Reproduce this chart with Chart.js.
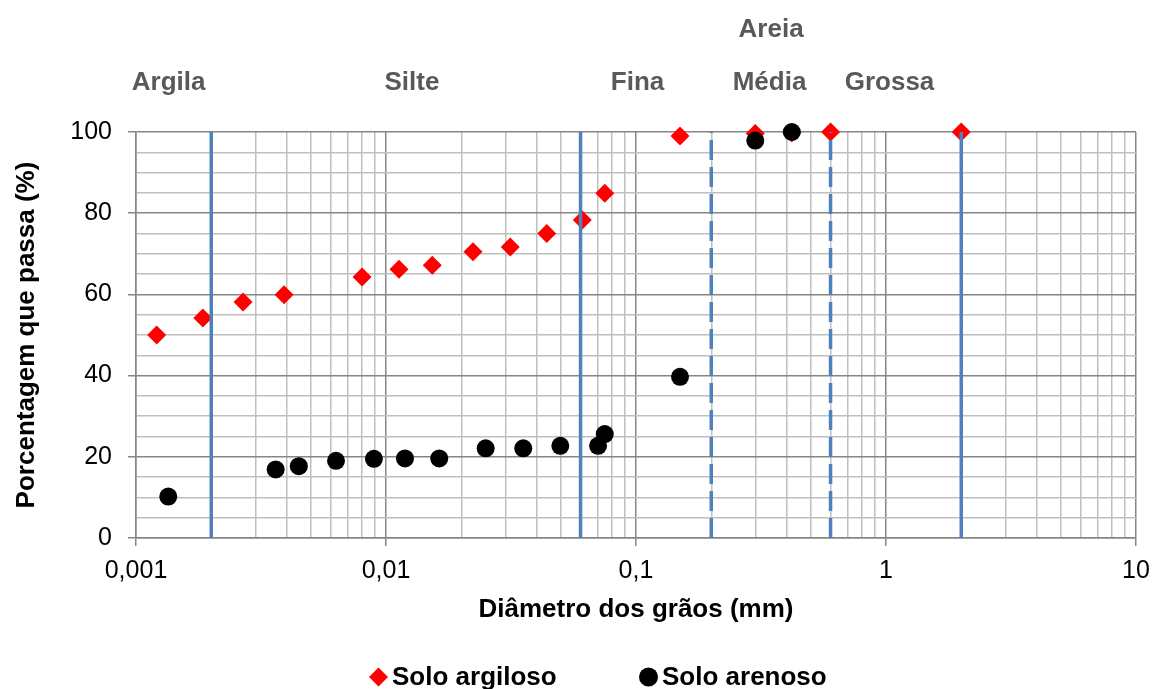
<!DOCTYPE html>
<html>
<head>
<meta charset="utf-8">
<script src="https://cdn.jsdelivr.net/npm/chart.js@4.4.0/dist/chart.umd.min.js"></script>
<style>
  html, body { margin: 0; padding: 0; background: #fff; }
  canvas { display: block; }
</style>
</head>
<body>
<canvas id="grafico" width="1153" height="689"></canvas>
<script>
// dados - solo argiloso
const diamArgiloso = [0.00121, 0.00185, 0.00268, 0.00391, 0.00802, 0.01127, 0.01531, 0.02228, 0.03141, 0.04395, 0.0610, 0.075, 0.15, 0.3, 0.42, 0.6, 2.0];
const passaArgiloso = [50.0, 54.2, 58.1, 59.9, 64.3, 66.2, 67.2, 70.5, 71.7, 75.0, 78.3, 84.9, 99.0, 99.6, 99.8, 100, 100];

// dados - solo arenoso
const diamArenoso = [0.001346, 0.00362, 0.00448, 0.00631, 0.00895, 0.01191, 0.01633, 0.02504, 0.0354, 0.0498, 0.0705, 0.075, 0.15, 0.3, 0.42];
const passaArenoso = [10.2, 16.9, 17.7, 19.0, 19.5, 19.6, 19.6, 22.1, 22.1, 22.7, 22.7, 25.6, 39.7, 97.9, 100];

// limites das frações (mm)
const limitesCheios = [0.002, 0.06, 2];
const limitesTracejados = [0.2, 0.6];

// eixos
const decadas = [0.001, 0.01, 0.1, 1, 10];
const rotulosX = ['0,001', '0,01', '0,1', '1', '10'];
const rotulosY = [0, 20, 40, 60, 80, 100];

// nomes das frações (posição em mm)
const faixas = ['Argila', 'Silte', 'Fina', 'Média', 'Grossa'];
const faixasDiam = [0.00135, 0.0127, 0.1014, 0.342, 1.033];
const areiaTexto = 'Areia';
const areiaDiam = 0.347;

const fonte = "'Liberation Sans', Arial, sans-serif";
const azul = '#4F81BD';
const gradeForte = '#868686';
const gradeFraca = '#BFBFBF';

function ehDecada(v) {
  return decadas.some(d => Math.abs(d - v) / d < 1e-6);
}

function pontos(xs, ys) {
  return xs.map((x, i) => ({x: x, y: ys[i]}));
}

let datasets = [];
limitesCheios.forEach(v => {
  datasets.push({
    label: 'limite', data: [{x: v, y: 0}, {x: v, y: 100}],
    showLine: true, borderColor: azul, borderWidth: 3.5, pointRadius: 0,
    clip: false, order: 0
  });
});
limitesTracejados.forEach(v => {
  datasets.push({
    label: 'limite', data: [{x: v, y: 0}, {x: v, y: 100}],
    showLine: true, borderColor: azul, borderWidth: 3.5, borderDash: [20, 7], pointRadius: 0,
    clip: false, order: 0
  });
});
datasets.push({
  label: 'Solo argiloso', data: pontos(diamArgiloso, passaArgiloso),
  pointStyle: 'rectRot', pointRadius: 9.5, pointBackgroundColor: '#FF0000',
  pointBorderWidth: 0, backgroundColor: '#FF0000', borderColor: '#FF0000',
  clip: false, order: 2
});
datasets.push({
  label: 'Solo arenoso', data: pontos(diamArenoso, passaArenoso),
  pointStyle: 'circle', pointRadius: 9, pointBackgroundColor: '#000000',
  pointBorderWidth: 0, backgroundColor: '#000000', borderColor: '#000000',
  clip: false, order: 1
});

// rótulos de cima + legenda
const textosExtras = {
  id: 'textosExtras',
  afterDraw(chart) {
    const ctx = chart.ctx;
    const x = chart.scales.x;
    ctx.save();
    ctx.font = 'bold 26px ' + fonte;
    ctx.fillStyle = '#595959';
    ctx.textAlign = 'center';
    ctx.textBaseline = 'alphabetic';
    faixas.forEach((t, i) => {
      ctx.fillText(t, x.getPixelForValue(faixasDiam[i]), 90);
    });
    ctx.fillText(areiaTexto, x.getPixelForValue(areiaDiam), 37);

    // legenda
    const itens = chart.data.datasets.filter(d => d.label !== 'limite');
    const posLeg = [378.5, 648.5];
    ctx.textAlign = 'left';
    itens.forEach((d, i) => {
      ctx.fillStyle = d.pointBackgroundColor;
      Chart.helpers.drawPoint(ctx, {pointStyle: d.pointStyle, radius: 9.5, rotation: 0, borderWidth: 0}, posLeg[i], 677);
      ctx.fillStyle = '#000';
      ctx.fillText(d.label, posLeg[i] + 13.5, 685);
    });
    ctx.restore();
  }
};

let grafico = document.getElementById('grafico').getContext('2d');
let curva = new Chart(grafico, {
  type: 'scatter',
  data: {datasets: datasets},
  plugins: [textosExtras],
  options: {
    responsive: false,
    animation: false,
    devicePixelRatio: 1,
    events: [],
    layout: {padding: {top: 132, right: 17, bottom: 0, left: 0}},
    plugins: {legend: {display: false}, tooltip: {enabled: false}},
    scales: {
      x: {
        type: 'logarithmic', min: 0.001, max: 10,
        afterFit: s => { s.height = 151; s.paddingLeft = 0; s.paddingRight = 0; },
        afterBuildTicks: s => {
          let t = [];
          decadas.forEach((d, i) => {
            if (i === decadas.length - 1) { t.push({value: d}); return; }
            for (let k = 1; k <= 9; k++) t.push({value: +(k * d).toPrecision(6)});
          });
          s.ticks = t;
        },
        ticks: {
          autoSkip: false, maxRotation: 0, padding: 10, color: '#000',
          font: {family: fonte, size: 25},
          callback: v => {
            const i = decadas.findIndex(d => Math.abs(d - v) / d < 1e-6);
            return i >= 0 ? rotulosX[i] : '';
          }
        },
        grid: {
          color: c => (c.tick && ehDecada(c.tick.value)) ? gradeForte : gradeFraca,
          tickColor: c => (c.tick && ehDecada(c.tick.value)) ? gradeForte : 'rgba(0,0,0,0)',
          lineWidth: 1.5, tickLength: 8
        },
        border: {color: gradeForte, width: 1.5},
        title: {
          display: true, text: 'Diâmetro dos grãos (mm)', color: '#000',
          font: {family: fonte, size: 26, weight: 'bold', lineHeight: 1.2},
          padding: {top: 0, bottom: 64}
        }
      },
      y: {
        min: 0, max: 100,
        afterFit: s => { s.width = 136; },
        ticks: {
          stepSize: 5, autoSkip: false, padding: 16, color: '#000',
          font: {family: fonte, size: 25},
          callback: v => rotulosY.includes(v) ? String(v) : ''
        },
        grid: {
          color: c => (c.tick && c.tick.value % 20 === 0) ? gradeForte : gradeFraca,
          tickColor: c => (c.tick && c.tick.value % 20 === 0) ? gradeForte : 'rgba(0,0,0,0)',
          lineWidth: 1.5, tickLength: 8
        },
        border: {color: gradeForte, width: 1.5},
        title: {
          display: true, text: 'Porcentagem que passa (%)', color: '#000',
          font: {family: fonte, size: 26, weight: 'bold', lineHeight: 1.2},
          padding: {top: 11, bottom: 0}
        }
      }
    }
  }
});
</script>
</body>
</html>
